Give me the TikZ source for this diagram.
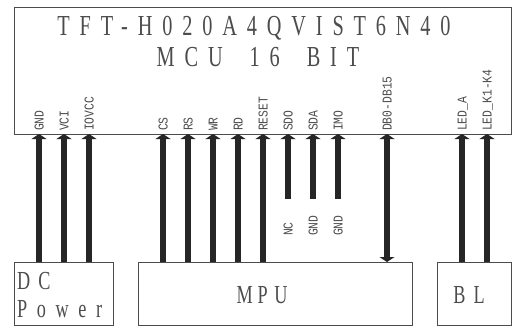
\documentclass[tikz,border=0pt]{standalone}
\usepackage{fontspec}
\usepackage{tikz}
\usetikzlibrary{positioning,arrows.meta}
\newfontfamily\pinfont[FakeStretch=0.84]{Liberation Mono}
\newfontfamily\titlefont[FakeStretch=0.7,LetterSpace=34]{Liberation Serif}
\newfontfamily\boxfont[FakeStretch=0.7,LetterSpace=31]{Liberation Serif}
\newfontfamily\lowerfont[FakeStretch=0.7,LetterSpace=37]{Liberation Serif}
\tikzset{
  box/.style={draw=black!70,line width=1pt,inner sep=0pt,outer sep=0pt},
  wire/.style={draw=black!85,line width=5.5pt,-{Triangle[width=15pt,length=5pt]}},
  stub/.style={wire},
  dwire/.style={draw=black!85,line width=5.5pt,{Triangle[width=15pt,length=5pt]}-{Triangle[width=15pt,length=5pt]}},
  pinlabel/.style={rotate=90,anchor=west,inner sep=0pt,text height=9pt,text depth=0pt,
    font=\pinfont\fontsize{13.5}{14}\selectfont,text=black!70},
  bigtext/.style={font=\titlefont\fontsize{29}{30}\selectfont,text=black!70,inner sep=0pt},
  boxtext/.style={font=\boxfont\fontsize{26}{28}\selectfont,text=black!70,inner sep=0pt}
}
\begin{document}
\begin{tikzpicture}[x=1pt,y=-1pt]
  \useasboundingbox (0,0) rectangle (513,327);

  \node [box,minimum width=497pt,minimum height=127pt] (lcd) at (262.5,70.5) {};
  \node [box,minimum width=99pt,minimum height=63pt] (dc) at (63.5,293.5) {};
  \node [box,minimum width=274pt,minimum height=63pt,right=25pt of dc] (mpu) {};
  \node [box,minimum width=74pt,minimum height=63pt,right=25pt of mpu] (bl) {};
  \node [bigtext] (title) at (254,28) {TFT-H020A4QVIST6N40};
  \node [bigtext] (bits) at (258,57) {MCU\hspace{27pt}16\hspace{27pt}BIT};
  \node [boxtext,anchor=west] (dcline) at (17,281) {DC};
  \node [boxtext,anchor=west,font=\lowerfont\fontsize{26}{28}\selectfont] (powerline) at (17,309) {Power};
  \node [boxtext] (mputext) at (262,295) {M\hspace{5pt}P\hspace{6.5pt}U};
  \node [boxtext] (bltext) at (469,295) {BL};

  \node [pinlabel] (gnd) at (39,131) {GND};
  \node [pinlabel] (vci) at (64,131) {VCI};
  \node [pinlabel] (iovcc) at (89,131) {IOVCC};
  \node [pinlabel] (cs) at (163,131) {CS};
  \node [pinlabel] (rs) at (188,131) {RS};
  \node [pinlabel] (wr) at (213,131) {WR};
  \node [pinlabel] (rd) at (238,131) {RD};
  \node [pinlabel] (reset) at (263,131) {RESET};
  \node [pinlabel] (sdo) at (288,131) {SDO};
  \node [pinlabel] (sda) at (313,131) {SDA};
  \node [pinlabel] (imo) at (338,131) {IMO};
  \node [pinlabel] (db) at (387,131) {DB0-DB15};
  \node [pinlabel] (leda) at (462,131) {LED\_A};
  \node [pinlabel] (ledk) at (487,131) {LED\_K1-K4};

  \node [pinlabel] (nc) at (288,236) {NC};
  \node [pinlabel] (gnda) at (313,236) {GND};
  \node [pinlabel] (gndb) at (338,236) {GND};
  \coordinate (sdoend) at (288,199);
  \coordinate (sdaend) at (313,199);
  \coordinate (imoend) at (338,199);

  \draw [wire] (dc.north -| gnd) -- (lcd.south -| gnd);
  \draw [wire] (dc.north -| vci) -- (lcd.south -| vci);
  \draw [wire] (dc.north -| iovcc) -- (lcd.south -| iovcc);
  \draw [wire] (mpu.north -| cs) -- (lcd.south -| cs);
  \draw [wire] (mpu.north -| rs) -- (lcd.south -| rs);
  \draw [wire] (mpu.north -| wr) -- (lcd.south -| wr);
  \draw [wire] (mpu.north -| rd) -- (lcd.south -| rd);
  \draw [wire] (mpu.north -| reset) -- (lcd.south -| reset);
  \draw [stub] (sdoend) -- (lcd.south -| sdo);
  \draw [stub] (sdaend) -- (lcd.south -| sda);
  \draw [stub] (imoend) -- (lcd.south -| imo);
  \draw [dwire] (mpu.north -| db) -- (lcd.south -| db);
  \draw [wire] (bl.north -| leda) -- (lcd.south -| leda);
  \draw [wire] (bl.north -| ledk) -- (lcd.south -| ledk);

\end{tikzpicture}
\end{document}
